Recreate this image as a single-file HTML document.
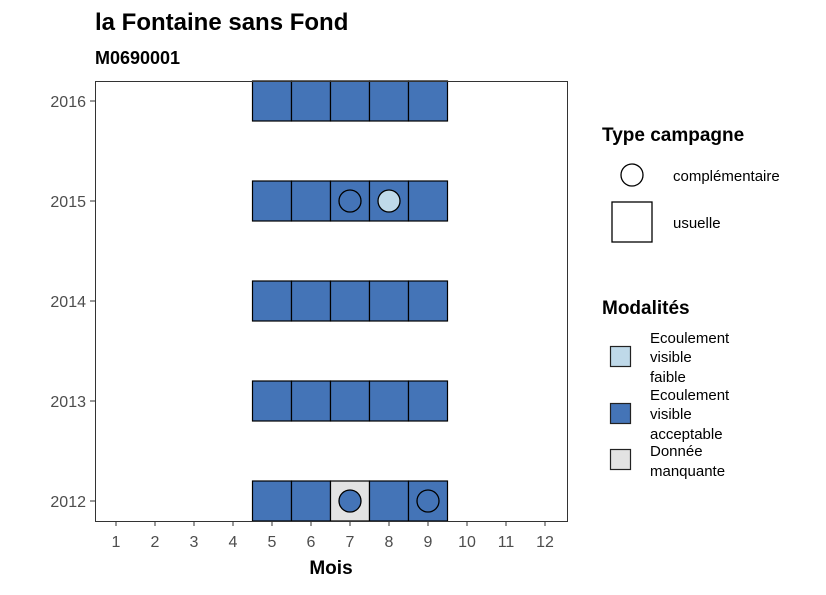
<!DOCTYPE html>
<html><head><meta charset="utf-8"><style>
body{margin:0;background:#fff;}
svg text{font-family:"Liberation Sans",sans-serif;}
</style></head><body>
<svg id="chart" width="826" height="590" xmlns="http://www.w3.org/2000/svg">
<text x="95" y="30" font-size="24" font-weight="bold" fill="#000">la Fontaine sans Fond</text>
<text x="95" y="64" font-size="18" font-weight="bold" fill="#000">M0690001</text>
<g id="plot"></g>
<rect x="95.5" y="81.5" width="472" height="440" fill="none" stroke="#333" stroke-width="1"/>
<text x="331" y="574" font-size="19" font-weight="bold" text-anchor="middle">Mois</text>
<g>
<text x="602" y="141" font-size="19" font-weight="bold">Type campagne</text>
<circle cx="632" cy="175" r="11" fill="#fff" stroke="#000" stroke-width="1.3"/>
<text x="673" y="181" font-size="15">complémentaire</text>
<rect x="612" y="202" width="40" height="40" fill="#fff" stroke="#000" stroke-width="1.3"/>
<text x="673" y="228" font-size="15">usuelle</text>
</g>
<g>
<text x="602" y="314" font-size="19" font-weight="bold">Modalités</text>
<rect x="610.5" y="346.5" width="20" height="20" fill="#bfd9e9" stroke="#222" stroke-width="1.2"/>
<text font-size="15"><tspan x="650" y="343">Ecoulement</tspan><tspan x="650" y="362">visible</tspan><tspan x="650" y="382">faible</tspan></text>
<rect x="610.5" y="403.5" width="20" height="20" fill="#4474b7" stroke="#222" stroke-width="1.2"/>
<text font-size="15"><tspan x="650" y="400">Ecoulement</tspan><tspan x="650" y="419">visible</tspan><tspan x="650" y="439">acceptable</tspan></text>
<rect x="610.5" y="449.5" width="20" height="20" fill="#e3e3e3" stroke="#222" stroke-width="1.2"/>
<text font-size="15"><tspan x="650" y="456">Donnée</tspan><tspan x="650" y="476">manquante</tspan></text>
</g>
</svg>
<script>
const months=[1,2,3,4,5,6,7,8,9,10,11,12];
const years=[2012,2013,2014,2015,2016];
const tileYears=[2016,2016,2016,2016,2016,2015,2015,2015,2015,2015,2014,2014,2014,2014,2014,2013,2013,2013,2013,2013,2012,2012,2012,2012,2012];
const tileMonths=[5,6,7,8,9,5,6,7,8,9,5,6,7,8,9,5,6,7,8,9,5,6,7,8,9];
const tileMods=["a","a","a","a","a","a","a","a","a","a","a","a","a","a","a","a","a","a","a","a","a","a","m","a","a"];
const pointYears=[2015,2015,2012,2012];
const pointMonths=[7,8,7,9];
const pointMods=["a","f","a","a"];
const colors={a:"#4474b7",f:"#bfd9e9",m:"#e3e3e3"};
const NS="http://www.w3.org/2000/svg";
const g=document.getElementById('plot');
function xS(m){return 116+(m-1)*39;}
function yS(y){return 501-(y-2012)*100;}
function mk(tag,attrs){const e=document.createElementNS(NS,tag);for(const k in attrs)e.setAttribute(k,attrs[k]);g.appendChild(e);return e;}
months.forEach(m=>{
  const t=mk('line',{x1:xS(m),x2:xS(m),y1:521,y2:526,stroke:'#333'});
  
  
  const l=mk('text',{x:xS(m),y:547,'font-size':16,'text-anchor':'middle',fill:'#4d4d4d'});
  l.textContent=m;
  
  
});
years.forEach(y=>{
  const t=mk('line',{x1:90,x2:95,y1:yS(y),y2:yS(y),stroke:'#333'});
  
  
  const l=mk('text',{x:86,y:yS(y)+6,'font-size':16,'text-anchor':'end',fill:'#4d4d4d'});
  l.textContent=y;
  
  
});
tileYears.forEach((y,i)=>{
  const r=mk('rect',{x:xS(tileMonths[i])-19.5,y:yS(y)-20,width:39,height:40,fill:colors[tileMods[i]],stroke:'#000','stroke-width':1.2});
  
  
});
pointYears.forEach((y,i)=>{
  const c=mk('circle',{cx:xS(pointMonths[i]),cy:yS(y),r:11,fill:colors[pointMods[i]],stroke:'#000','stroke-width':1.3});
  
  
});
</script>
</body></html>
